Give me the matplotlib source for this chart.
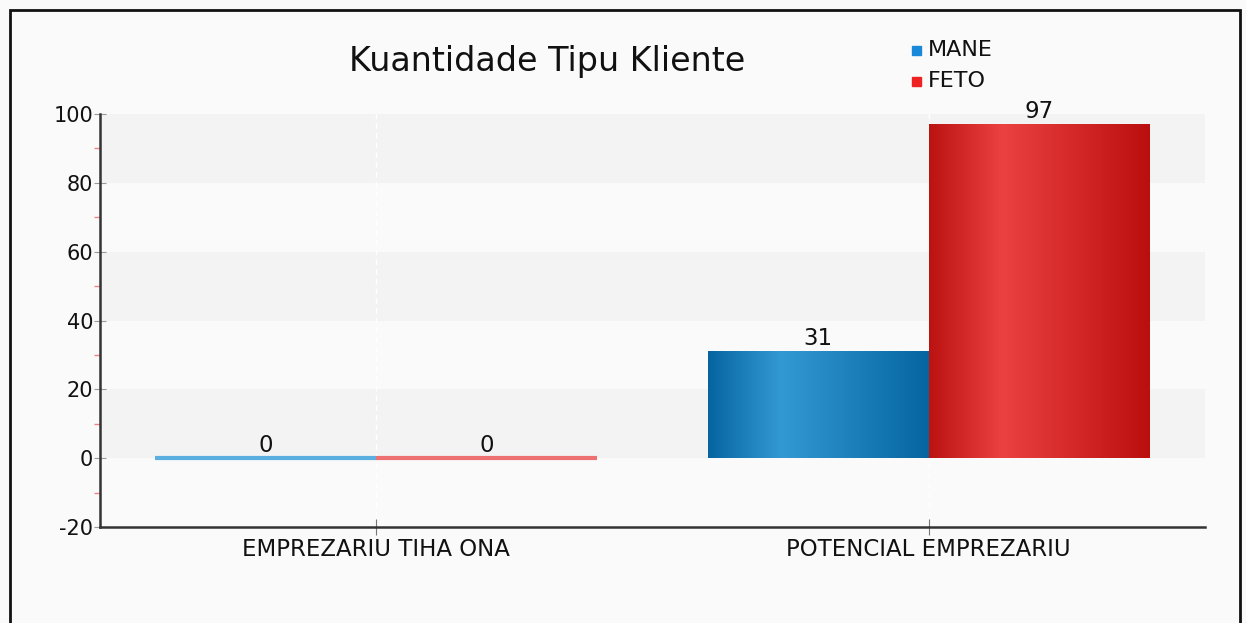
import numpy as np
import matplotlib
matplotlib.use("Agg")
import matplotlib.pyplot as plt
from matplotlib.colors import LinearSegmentedColormap
from matplotlib.patches import Rectangle

categories = ["EMPREZARIU TIHA ONA", "POTENCIAL EMPREZARIU"]
series_names = ["MANE", "FETO"]
mane = [0, 31]
feto = [0, 97]
yticks = [-20, 0, 20, 40, 60, 80, 100]
title = "Kuantidade Tipu Kliente"

BG = "#fafafa"
fig = plt.figure(figsize=(12.46, 6.23), dpi=100, facecolor=BG)
ax = fig.add_axes([0.0803, 0.1541, 0.8868, 0.6629])
ax.set_facecolor(BG)

# frame border
fig.patches.append(Rectangle((10/1246, -0.1), (1240-10)/1246, 1.1 - 10/623,
                             transform=fig.transFigure, fill=False,
                             edgecolor="#111111", linewidth=2, zorder=0))

ax.set_xlim(-0.5, 1.5)
ax.set_ylim(-20, 100)

# alternating bands
for lo, hi in zip(yticks[:-1], yticks[1:]):
    if (lo // 20) % 2 == 0:
        ax.axhspan(lo, hi, color="#f3f3f3", zorder=0, lw=0)

# vertical grid at categories
x = np.arange(len(categories))
for xi in x:
    ax.axvline(xi, color="white", lw=1, ls=(0, (4, 3)), zorder=0.5)

w = 0.4
blue_cm = LinearSegmentedColormap.from_list(
    "b", [(0, "#0665a0"), (0.33, "#3399d3"), (0.331, "#45a3da"), (0.332, "#3399d3"), (1, "#0565a0")])
red_cm = LinearSegmentedColormap.from_list(
    "r", [(0, "#bb1212"), (0.33, "#ec4141"), (0.331, "#f25555"), (0.332, "#ec4141"), (1, "#bb0f0f")])
grad = np.linspace(0, 1, 400).reshape(1, -1)

def draw(vals, offset, cmap, flat):
    for xi, v in zip(x, vals):
        x0 = xi + offset
        if v > 0:
            ax.imshow(grad, cmap=cmap, extent=[x0, x0 + w, 0, v], aspect="auto",
                      interpolation="bilinear", zorder=2)
        else:
            ax.hlines(0, x0, x0 + w, color=flat, lw=3, zorder=2)
        ax.text(x0 + w/2, v + 0.3, str(v), ha="center", va="bottom",
                fontsize=16.5, color="#111111", zorder=3)

draw(mane, -w, blue_cm, "#5aaee0")
draw(feto, 0, red_cm, "#ef7070")
ax.set_xlim(-0.5, 1.5)
ax.set_ylim(-20, 100)

ax.set_yticks(yticks)
ax.set_yticklabels([str(t) for t in yticks], fontsize=15, color="#111111")
ax.set_yticks([t + 10 for t in yticks[:-1]], minor=True)
ax.tick_params(axis="y", which="major", direction="inout", length=8, color="#999999", pad=1)
ax.tick_params(axis="y", which="minor", direction="out", length=4, color="#f08080", width=1)
ax.set_xticks(x)
ax.set_xticklabels(categories, fontsize=16.5, color="#111111")
ax.tick_params(axis="x", which="major", direction="inout", length=12, color="#777777", pad=2)

for s in ["top", "right"]:
    ax.spines[s].set_visible(False)
for s in ["left", "bottom"]:
    ax.spines[s].set_color("#333333")
    ax.spines[s].set_linewidth(1.8)

fig.text(547/1246, 1 - 61/623, title, ha="center", va="center", fontsize=24, color="#111111")

# legend
for i, (name, col) in enumerate(zip(series_names, ["#1a88d8", "#ee2222"])):
    yy = 1 - (50 + i * 31) / 623
    fig.patches.append(Rectangle((912/1246, yy - 4.5/623), 9/1246, 9/623,
                                 transform=fig.transFigure, color=col))
    fig.text(928/1246, yy, name, ha="left", va="center", fontsize=16, color="#111111")

fig.savefig("out.png", dpi=100, facecolor=BG)
